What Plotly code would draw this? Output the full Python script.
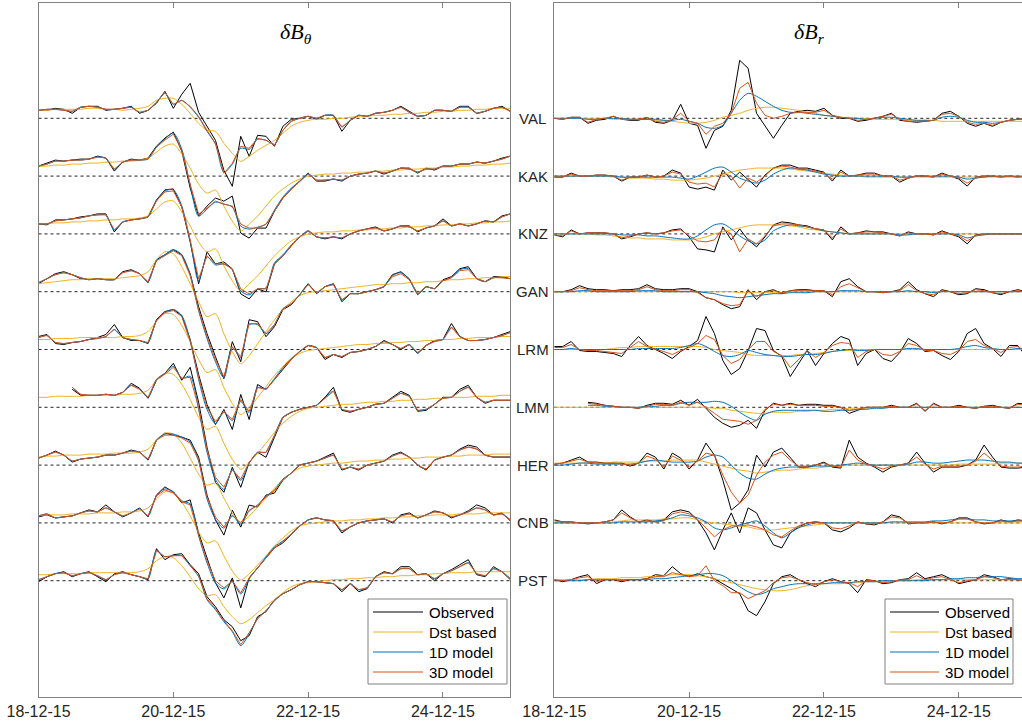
import datetime as dt
import plotly.graph_objects as go

# ---------------------------------------------------------------------------
# Geomagnetic variations during the December 2015 storm, 3-hourly samples.
# Each value is the deviation of a station trace from its own baseline
# (stacked display units); None = no data.
# ---------------------------------------------------------------------------
STATIONS = ["VAL", "KAK", "KNZ", "GAN", "LRM", "LMM", "HER", "CNB", "PST"]
START = dt.datetime(2015, 12, 18)
STEP_HOURS = 3
N_SAMPLES = 57
TICK_DATES = ["2015-12-18", "2015-12-20", "2015-12-22", "2015-12-24"]
TICK_TEXT = ["18-12-15", "20-12-15", "22-12-15", "24-12-15"]
SERIES_NAMES = ["Observed", "Dst based", "1D model", "3D model"]
SERIES_COLORS = ["#000000", "#EDB120", "#0072BD", "#D95319"]
PANEL_TITLES = ["<i>δB</i><sub><i>θ</i></sub>", "<i>δB</i><sub><i>r</i></sub>"]
N = None

# ----------------------------- delta B theta -------------------------------
val_th_obs = [8,8,10,9,5,11,12,12,8,9, 10,12,5,8,15,27,10,24,35,6, -8,-22,-52,-68,-18,-38,-17,-18,-28,-8, -1,0,2,-1,3,3,-13,-2,3,2, 5,6,8,12,7,2,3,8,8,7, 12,12,5,7,10,12,7]
val_th_dst = [8,8,9,9,9,9,10,10,9,9, 8,9,10,12,18,20,20,14,5,-5, -12,-13,-25,-35,-43,-38,-32,-27,-22,-15, -8,-4,-2,-1,-1,0,0,1,2,2, 3,3,4,4,5,5,6,6,7,7, 8,8,9,9,10,10,10]
val_th_1d = [8,9,9,8,7,11,12,11,9,9, 10,11,6,8,16,25,14,18,11,1, -13,-26,-54,-46,-30,-31,-21,-22,-26,-12, -3,0,2,0,3,3,-8,-2,3,2, 5,6,8,11,6,2,3,8,8,7, 11,11,5,7,10,11,7]
val_th_3d = [8,9,9,8,7,11,12,11,9,9, 10,11,6,8,16,26,14,18,12,2, -12,-25,-55,-45,-28,-30,-20,-22,-27,-12, -3,0,2,0,3,3,-9,-2,3,2, 5,6,8,11,6,2,3,8,8,7, 11,11,5,7,10,11,7]

kak_th_obs = [10,13,16,15,16,17,17,20,18,5, 14,17,16,18,30,38,44,25,-12,-40, -30,-22,-25,-20,-57,-62,-52,-52,-35,-22, -13,-5,3,-5,-5,-3,-5,0,2,3, 5,2,5,8,8,3,8,6,10,10, 12,12,14,13,15,18,20]
kak_th_dst = [10,10,11,11,12,12,13,13,14,14, 15,15,16,18,24,30,32,22,8,-8, -17,-14,-30,-45,-55,-48,-40,-30,-20,-13, -7,-3,0,1,2,2,3,3,4,4, 5,5,6,6,7,7,8,8,9,9, 10,10,11,11,12,12,13]
kak_th_1d = [10,12,15,15,16,16,17,19,18,7, 14,16,16,17,29,37,43,27,-9,-40, -33,-26,-28,-31,-50,-53,-51,-48,-34,-21, -12,-5,2,-4,-4,-3,-4,0,2,3, 5,3,5,8,7,4,7,7,10,10, 12,12,14,13,15,17,20]
kak_th_3d = [10,12,15,15,16,16,17,19,18,7, 14,16,16,17,29,36,42,26,-8,-38, -32,-25,-28,-30,-48,-52,-52,-48,-35,-22, -13,-5,2,-4,-4,-3,-4,0,2,3, 5,3,5,8,7,4,7,7,10,10, 12,12,14,13,15,17,20]

knz_th_obs = [10,9,14,14,15,17,18,20,20,2, 12,14,15,17,34,44,45,27,-8,-50, -18,-30,-28,-35,-60,-65,-55,-58,-30,-22, -12,-3,3,-3,-5,-3,-5,0,3,5, 7,3,5,8,8,2,6,8,15,8, 10,8,10,13,12,18,20]
knz_th_dst = [10,10,11,11,12,12,13,13,14,14, 15,15,16,18,25,32,33,22,8,-8, -18,-15,-32,-47,-57,-50,-42,-32,-22,-14, -7,-3,0,1,2,2,3,3,4,4, 5,5,6,6,7,7,8,8,9,9, 10,10,11,11,12,12,13]
knz_th_1d = [10,10,13,14,15,16,18,19,19,4, 12,14,15,17,33,43,44,28,-7,-47, -23,-31,-30,-36,-57,-61,-55,-54,-29,-21, -11,-3,3,-3,-4,-3,-4,0,3,5, 6,3,5,8,7,3,6,8,13,8, 10,8,10,13,12,17,20]
knz_th_3d = [10,10,13,14,15,16,18,19,19,4, 12,14,15,17,33,42,43,27,-6,-45, -22,-30,-30,-35,-55,-60,-55,-55,-30,-22, -12,-3,3,-3,-4,-3,-4,0,3,5, 6,3,5,8,7,3,6,8,13,8, 10,8,10,13,12,17,20]

gan_th_obs = [8,13,18,20,17,13,12,13,12,12, 20,22,18,9,32,37,42,37,18,-15, -42,-65,-87,-50,-70,-28,-30,-45,-35,-18, -13,-3,8,-2,5,8,-10,-2,-2,0, 2,5,17,20,13,-3,5,3,12,15, 23,25,13,10,15,15,13]
gan_th_dst = [8,9,10,11,12,12,13,13,13,13, 14,15,16,20,32,40,38,25,8,-10, -25,-22,-42,-60,-72,-64,-52,-40,-28,-18, -10,-4,-1,0,1,2,3,4,5,6, 7,7,8,8,9,9,10,10,11,12, 12,13,13,14,14,15,15]
gan_th_1d = [9,13,17,19,17,14,12,13,12,12, 19,21,18,10,31,37,42,37,17,-19, -47,-70,-86,-56,-66,-33,-33,-42,-33,-17, -12,-3,7,-1,5,7,-8,-2,-2,0, 2,5,16,19,12,-2,5,3,11,14, 22,23,13,10,14,14,13]
gan_th_3d = [9,13,17,19,17,14,12,13,12,12, 19,21,18,10,31,36,41,36,16,-18, -45,-68,-85,-55,-65,-32,-32,-42,-33,-17, -12,-3,7,-1,5,7,-8,-2,-2,0, 2,5,15,18,12,-2,5,3,11,14, 21,22,13,10,14,14,13]

lrm_th_obs = [13,15,6,5,7,8,10,12,15,25, 12,9,9,6,30,38,40,34,10,-25, -55,-75,-60,-80,-45,-70,-35,-40,-30,-20, -10,-2,4,2,-10,-5,-8,-3,-2,0, 3,9,5,0,5,-4,4,9,10,26, 13,9,9,10,12,15,18]
lrm_th_dst = [10,10,11,11,11,12,12,12,12,12, 13,13,14,18,28,36,35,24,8,-10, -23,-20,-38,-54,-65,-58,-48,-37,-26,-17, -9,-4,-1,0,1,2,3,4,5,5, 6,6,7,7,8,8,9,9,10,10, 11,11,12,12,12,13,13]
lrm_th_1d = [12,14,7,6,7,8,10,11,13,20, 12,10,9,7,29,37,40,34,9,-30, -60,-74,-63,-71,-52,-63,-38,-39,-29,-18, -9,-2,4,2,-8,-5,-7,-3,-2,0, 3,8,5,1,5,-3,4,8,10,22, 13,9,9,10,12,14,17]
lrm_th_3d = [12,14,7,6,7,8,10,11,13,20, 12,10,9,7,29,37,39,33,8,-28, -58,-72,-62,-70,-50,-62,-38,-40,-30,-19, -10,-2,4,2,-8,-5,-7,-3,-2,0, 3,8,5,1,5,-3,4,8,10,22, 13,9,9,10,12,14,17]

lmm_th_obs = [N,N,N,N,18,12,12,12,13,12, 15,24,19,9,27,34,44,27,40,5, -40,-75,-85,-60,-80,-55,-45,-50,-30,-10, -5,-2,0,2,10,20,-3,-5,-2,0, 3,4,10,16,12,-4,-3,3,10,10, 18,22,10,4,7,7,7]
lmm_th_dst = [10,10,11,11,11,11,12,12,12,12, 13,13,14,17,27,34,33,23,8,-10, -22,-19,-36,-52,-62,-55,-46,-36,-25,-16, -9,-4,-1,0,1,2,3,3,4,5, 5,6,6,7,7,8,8,9,9,10, 10,10,11,11,11,12,12]
lmm_th_1d = [N,N,N,N,20,13,12,12,13,12, 15,22,18,10,28,34,41,29,31,-2, -45,-72,-82,-63,-73,-56,-45,-45,-28,-10, -5,-2,0,2,9,16,-2,-4,-2,0, 3,4,9,14,11,-3,-2,3,9,10, 16,20,10,5,7,7,7]
lmm_th_3d = [N,N,N,N,20,13,12,12,13,12, 15,22,18,10,28,33,40,29,30,0, -42,-70,-80,-62,-72,-55,-45,-45,-28,-10, -5,-2,0,2,9,16,-2,-4,-2,0, 3,4,9,14,11,-3,-2,3,9,10, 16,20,10,5,7,7,7]

her_th_obs = [7,10,14,10,3,6,7,8,10,10, 12,15,13,5,25,32,30,28,25,8, -30,-55,-70,-45,-62,-40,-42,-30,-28,-15, -8,0,2,4,8,12,-5,-2,-5,0, 2,4,10,13,8,0,-5,5,8,10, 16,20,18,10,8,8,8]
her_th_dst = [8,9,9,10,10,10,11,11,11,12, 12,12,13,16,25,32,31,22,7,-9, -20,-18,-33,-48,-57,-51,-42,-33,-23,-15, -8,-3,-1,0,1,2,2,3,4,4, 5,5,6,6,7,7,8,8,8,9, 9,10,10,10,11,11,11]
her_th_1d = [7,10,13,10,4,6,7,8,10,10, 12,14,13,6,25,31,31,28,23,4, -34,-54,-63,-51,-59,-46,-40,-31,-25,-14, -8,0,2,4,7,10,-4,-2,-4,0, 2,4,9,12,8,0,-4,5,8,10, 15,18,16,10,8,8,8]
her_th_3d = [7,10,13,10,4,6,7,8,10,10, 12,14,13,6,25,30,30,27,22,5, -32,-52,-62,-50,-58,-45,-40,-32,-26,-15, -8,0,2,4,7,10,-4,-2,-4,0, 2,4,9,12,8,0,-4,5,8,10, 15,18,16,10,8,8,8]

cnb_th_obs = [6,8,5,6,7,10,13,11,18,11, 6,10,15,6,28,36,31,20,23,-10, -35,-60,-75,-55,-85,-55,-45,-35,-25,-20, -12,-3,3,5,3,2,-10,-4,0,2, 3,4,0,8,10,5,8,12,10,5, 8,12,18,15,8,10,2]
cnb_th_dst = [7,8,8,8,9,9,9,10,10,10, 11,11,12,15,24,31,30,21,7,-9, -20,-18,-33,-48,-57,-51,-42,-33,-23,-15, -8,-3,-1,0,1,2,2,3,3,4, 4,5,5,6,6,7,7,8,8,8, 9,9,9,10,10,10,10]
cnb_th_1d = [7,9,5,6,7,10,12,11,15,11, 7,10,14,7,27,34,31,22,19,-13, -40,-60,-66,-59,-71,-56,-45,-34,-24,-18, -11,-3,3,5,3,2,-8,-4,0,2, 3,4,1,7,9,5,8,11,10,6, 8,11,15,13,8,9,3]
cnb_th_3d = [7,9,5,6,7,10,12,11,15,11, 7,10,14,7,27,33,30,21,18,-12, -38,-58,-65,-58,-70,-55,-45,-35,-25,-19, -11,-3,3,5,3,2,-8,-4,0,2, 3,4,1,7,9,5,8,11,10,6, 8,11,15,13,8,9,3]

pst_th_obs = [-1,4,7,9,4,7,9,4,-1,7, 9,6,4,1,32,21,26,27,16,7, -16,-26,-39,-46,-60,-55,-36,-31,-19,-13, -9,-4,-1,-1,-2,-3,-11,-3,-11,-8, 4,9,7,14,14,6,7,0,7,11, 16,21,6,4,14,9,1]
pst_th_dst = [6,6,7,7,7,7,8,8,8,8, 8,8,9,12,20,24,23,15,4,-8, -15,-14,-26,-36,-43,-39,-32,-25,-19,-12, -6,-3,-2,-1,0,1,1,2,2,3, 3,4,4,5,5,6,6,7,7,8, 8,8,9,9,9,9,9]
pst_th_1d = [1,4,7,8,5,7,8,5,1,6, 8,6,4,2,30,24,25,25,15,4, -19,-29,-41,-51,-65,-53,-38,-30,-20,-13, -9,-4,-1,-1,-2,-3,-9,-3,-9,-7, 4,8,7,12,12,6,7,2,7,10, 14,18,7,5,12,9,2]
pst_th_3d = [1,4,7,8,5,7,8,5,1,6, 8,6,4,2,30,24,25,25,15,5, -18,-28,-40,-50,-64,-52,-38,-30,-20,-13, -9,-4,-1,-1,-2,-3,-9,-3,-9,-7, 4,8,7,12,12,6,7,2,7,10, 14,18,7,5,12,9,2]

# ------------------------------- delta B r ---------------------------------
val_r_obs = [0,-1,1,1,-5,-2,-1,2,-1,-2, -2,1,-4,-5,-2,14,-5,-7,-30,-12, -8,8,58,50,5,-8,-20,-7,5,7, 8,7,10,3,0,0,-3,-2,0,2, 5,-2,-3,-4,-3,-2,5,7,2,-5, -8,-5,-8,-4,-2,-1,0]
val_r_dst = [0,0,0,0,0,0,0,-1,-1,-1, -1,-1,-2,-2,-3,-4,-5,-5,-4,-2, 1,3,5,8,10,11,11,10,9,8, 6,5,3,2,1,1,0,0,-1,-1, -1,-1,-2,-2,-2,-2,-3,-3,-3,-3, -3,-3,-3,-3,-3,-3,-3]
val_r_1d = [0,0,0,0,-1,-1,0,0,0,-1, -1,-1,-1,-2,-2,-1,-3,-5,-9,-10, -7,5,18,25,22,17,12,8,6,6, 5,4,3,2,1,0,0,-1,0,1, 1,0,-1,-2,-2,-2,1,2,1,-2, -4,-4,-5,-4,-2,-1,0]
val_r_3d = [0,-1,1,1,-4,-1,0,2,-1,-1, -1,1,-3,-4,-1,5,-3,-5,-16,-8, -5,5,30,36,15,3,0,2,5,6, 6,6,8,3,1,0,-2,-1,0,2, 4,-1,-3,-3,-3,-2,4,5,2,-4, -6,-5,-7,-4,-2,-1,0]

kak_r_obs = [-1,-1,3,0,0,1,1,0,-5,-1, -1,1,-1,0,6,3,-11,-13,-11,-14, 6,-4,4,-4,-11,1,8,11,11,8, 8,6,4,-5,6,0,1,3,3,0, 0,-6,-2,0,0,-1,3,0,-3,-10, -1,0,0,-1,0,-1,0]
kak_r_dst = [0,0,0,0,0,0,0,-1,-1,-2, -2,-2,-3,-3,-4,-4,-4,-3,-2,0, 2,4,6,7,8,8,8,8,7,6, 5,4,3,2,1,0,0,-1,-1,-1, -1,-1,-1,-1,-1,-1,-1,-1,-1,-1, -1,-1,-1,-1,-1,-1,-1]
kak_r_1d = [0,0,0,0,0,0,0,0,-1,-1, -1,-1,-1,-1,-1,-2,-3,0,4,8, 9,4,-2,-5,-7,-4,2,6,8,7, 6,4,2,1,0,0,0,0,0,0, 0,-1,-1,0,0,0,0,0,-1,-3, -2,-1,0,0,0,0,0]
kak_r_3d = [-1,-1,2,0,0,1,1,0,-4,-1, -1,1,-1,0,4,2,-6,-8,-7,-11, 3,0,-12,-2,-6,0,8,10,9,7, 7,5,3,-3,4,0,1,2,2,0, 0,-4,-2,0,0,-1,2,0,-2,-7, -2,0,0,-1,0,-1,0]

knz_r_obs = [-1,-3,4,0,1,1,1,0,-5,-3, 0,1,0,1,4,5,-3,-15,-16,-18, 7,-6,5,-6,-13,-3,9,12,11,9, 8,5,4,-6,7,0,1,3,2,2, 0,-2,2,0,0,-1,3,0,-3,-10, -1,0,0,0,0,0,0]
knz_r_dst = [0,0,0,0,0,-1,-1,-2,-3,-4, -4,-5,-5,-5,-6,-6,-6,-5,-3,0, 2,4,6,8,9,9,9,9,8,7, 5,4,3,2,1,0,0,0,0,0, 0,0,0,0,0,0,0,0,0,0, 0,0,0,0,0,0,0]
knz_r_1d = [0,0,0,0,0,0,0,0,-1,-1, -1,-2,-2,-3,-4,-5,-5,-2,4,9, 10,5,-2,-7,-10,-6,3,7,9,8, 7,5,3,2,1,0,0,0,0,0, 0,-1,-1,0,0,0,0,0,-1,-4, -2,-1,0,0,0,0,0]
knz_r_3d = [-1,-2,3,0,1,1,1,0,-4,-2, 0,1,0,1,3,4,-2,-7,-8,-6, 5,0,-18,-5,-10,-2,8,10,10,9, 7,5,4,-4,5,0,1,2,2,1, 0,-2,1,0,0,-1,2,0,-2,-7, -2,0,0,0,0,0,0]

gan_r_obs = [0,0,2,6,3,2,2,1,2,2, 3,7,3,2,2,3,3,0,-6,-8, -13,-17,-15,2,-8,0,2,-2,1,2, 2,1,1,-5,10,13,5,0,0,-1, 0,2,10,2,-2,-5,2,0,-3,-2, 3,2,-1,-3,0,2,0]
gan_r_dst = [0,0,0,0,0,0,0,0,0,0, 0,0,0,0,0,0,0,0,0,0, 0,0,-1,-1,-1,-1,-1,-1,0,0, 0,0,0,0,0,0,0,0,0,0, 0,0,0,0,0,0,0,0,0,0, 0,0,0,0,0,0,0]
gan_r_1d = [0,0,0,1,1,0,0,0,0,0, 1,1,1,0,0,0,0,0,-1,-2, -4,-5,-6,-5,-4,-3,-2,-2,-1,-1, -1,0,0,0,1,1,1,0,0,0, 0,0,1,0,0,-1,0,0,0,0, 0,0,0,0,0,0,0]
gan_r_3d = [0,0,1,4,2,1,1,1,1,1, 2,5,2,1,1,2,2,-1,-6,-8, -12,-14,-13,1,-5,0,1,-1,1,1, 1,1,1,-3,5,8,4,0,0,-1, 0,1,7,1,-2,-3,1,0,-2,-1, 2,1,-1,-2,0,1,0]

lrm_r_obs = [3,3,8,-1,-2,-2,-3,-4,-7,4, 13,4,0,-4,-9,-2,3,9,33,16, -11,-25,-19,-1,21,19,-1,-7,-27,-14, -1,-16,-4,6,13,10,-16,-4,0,-9, -12,-3,11,6,-2,-1,-6,-10,-2,16, 21,6,1,-7,4,4,-7]
lrm_r_dst = [0,0,0,0,0,0,0,1,2,2, 3,3,3,3,3,3,3,3,2,0, -1,-2,-3,-5,-6,-6,-6,-6,-6,-5, -5,-4,-3,-2,-1,-1,0,0,0,0, 0,0,0,0,0,0,0,0,0,0, 0,0,0,0,0,0,0]
lrm_r_1d = [0,0,1,0,0,0,0,0,0,0, 1,1,1,1,1,2,4,6,3,-2, -6,-7,-5,-1,-3,-5,-6,-7,-7,-6, -5,-5,-4,-2,-1,0,-1,-1,0,0, 0,0,1,1,0,0,0,0,1,3, 4,2,1,0,0,1,0]
lrm_r_3d = [2,2,5,0,-1,-1,-2,-3,-4,2, 8,3,0,-2,-5,-1,2,6,14,10, -6,-14,-10,0,8,8,-2,-6,-18,-10, -1,-8,-3,4,7,6,-8,-2,0,-5, -6,-2,6,4,-1,-1,-4,-5,-1,8, 10,4,1,-3,2,3,-2]

lmm_r_obs = [N,N,N,N,5,4,2,1,0,0, -1,2,4,4,3,7,2,8,-1,-10, -16,-20,-18,-13,-21,-3,4,2,4,2, 3,3,2,2,0,-6,-3,0,0,0, 2,0,0,4,-4,4,0,0,2,0, -1,1,2,0,-1,4,3]
lmm_r_dst = [0,0,0,0,0,0,0,0,0,0, 0,0,0,0,0,0,0,0,0,-1, -1,-3,-4,-5,-6,-6,-5,-5,-5,-4, -4,-3,-3,-2,-2,-1,-1,-1,0,0, 0,0,0,0,0,0,0,0,0,0, 0,0,0,0,0,0,0]
lmm_r_1d = [N,N,N,N,2,2,1,1,0,0, 0,1,1,2,2,4,5,5,5,6, 5,1,-5,-10,-13,-7,-4,-3,-3,-3, -3,-3,-4,-4,-3,-3,-2,-2,-1,-1, 0,0,0,0,0,0,0,0,0,0, 0,0,0,0,0,0,0]
lmm_r_3d = [N,N,N,N,4,3,2,1,0,0, -1,1,3,3,2,5,2,5,0,-6, -12,-13,-14,-17,-13,-2,3,2,3,2, 2,2,1,1,0,-3,-2,0,0,0, 1,0,0,3,-3,3,0,0,1,0, -1,1,1,0,-1,3,2]

her_r_obs = [1,2,5,8,3,3,2,2,2,-1, 2,12,8,-4,12,7,-4,5,22,10, -15,-45,-38,-25,10,-2,13,17,8,-2, -2,0,3,-2,-3,25,8,2,-2,-7, -2,0,2,13,2,-7,-2,-2,-2,0, 5,20,8,-2,-3,-3,-2]
her_r_dst = [2,2,2,2,2,2,2,3,3,3, 3,4,4,4,5,5,5,5,3,1, -1,-3,-5,-6,-8,-7,-6,-5,-5,-4, -3,-3,-2,-1,-1,0,0,0,0,0, 0,0,0,0,0,0,0,0,1,1, 1,1,1,2,2,2,2]
her_r_1d = [0,0,1,2,2,1,1,1,1,1, 2,4,5,4,3,3,3,4,8,10, 8,0,-8,-13,-14,-9,-5,-3,-2,-2, -2,-1,-1,-1,0,1,2,1,0,0, 0,0,1,3,3,2,2,3,4,5, 5,5,4,3,3,2,2]
her_r_3d = [1,2,4,6,3,2,2,2,1,0, 2,9,6,-2,9,5,-2,4,12,10, -10,-27,-38,-30,-10,3,10,13,5,-1, -1,0,2,-1,-2,15,5,1,-1,-4, -1,0,2,8,1,-4,-1,-1,-1,0, 4,12,5,-1,-2,-2,-1]

cnb_r_obs = [3,1,1,0,-1,0,1,3,13,6, 1,3,1,3,11,13,11,3,-10,-27, -7,10,-10,15,10,-7,-22,-25,-10,-4, 0,1,0,-7,-9,-5,1,-1,-2,1, 8,6,-1,0,0,1,-1,1,5,5, 1,-1,0,3,1,3,2]
cnb_r_dst = [0,0,0,0,0,0,0,1,2,3, 3,3,3,4,4,5,5,3,1,0, -1,-2,-3,-4,-6,-7,-7,-6,-5,-4, -3,-2,-1,0,0,0,0,0,0,0, 0,0,0,0,0,0,0,0,0,0, 0,0,0,0,0,0,0]
cnb_r_1d = [0,0,0,0,0,0,0,0,1,1, 1,1,2,3,5,8,7,5,1,-5, -7,-5,-2,0,2,-3,-10,-15,-10,-5, -2,0,0,0,0,0,0,0,0,0, 1,1,1,1,1,2,2,3,4,4, 3,3,2,2,2,2,2]
cnb_r_3d = [2,1,1,0,0,0,1,3,10,5, 1,2,1,2,9,11,9,3,-5,-14, -7,-3,-3,-2,-4,-7,-12,-14,-8,-3, 0,1,0,-5,-6,-3,1,-1,-1,1, 6,5,0,0,0,1,0,1,4,4, 1,0,0,2,1,2,2]

pst_r_obs = [1,-1,1,4,6,-3,1,1,-1,1, 1,2,6,5,14,7,4,7,4,2, -3,-8,-13,-30,-35,-21,-3,4,6,1, -3,-6,-1,2,-1,-3,-12,1,0,-3, -2,1,2,8,2,4,6,2,-3,-1, 1,6,4,1,2,1,0]
pst_r_dst = [1,1,1,1,1,2,2,2,3,3, 3,4,4,5,6,6,6,5,4,2, 0,-2,-4,-6,-8,-9,-10,-10,-9,-7, -5,-4,-3,-3,-3,-2,-2,-1,-1,-1, 0,0,0,1,1,1,1,1,1,1, 1,1,1,1,1,1,1]
pst_r_1d = [0,0,0,0,1,1,1,1,1,1, 1,1,2,2,3,4,5,6,7,7, 5,0,-6,-11,-14,-12,-8,-6,-4,-3, -3,-3,-3,-2,-2,-2,-1,-1,-1,0, 0,0,0,0,0,1,1,2,2,3, 3,4,4,4,3,2,2]
pst_r_3d = [1,0,1,3,4,-1,1,1,0,1, 1,2,4,4,8,6,4,5,15,0, -5,-12,-12,-18,-14,-10,-2,3,4,1, -2,-4,-1,1,-1,-2,-6,0,0,-2, -1,1,1,5,1,3,4,1,-2,0, 1,4,3,1,1,1,0]

# station -> (observed, Dst based, 1D model, 3D model)
THETA = {
    "VAL": (val_th_obs, val_th_dst, val_th_1d, val_th_3d),
    "KAK": (kak_th_obs, kak_th_dst, kak_th_1d, kak_th_3d),
    "KNZ": (knz_th_obs, knz_th_dst, knz_th_1d, knz_th_3d),
    "GAN": (gan_th_obs, gan_th_dst, gan_th_1d, gan_th_3d),
    "LRM": (lrm_th_obs, lrm_th_dst, lrm_th_1d, lrm_th_3d),
    "LMM": (lmm_th_obs, lmm_th_dst, lmm_th_1d, lmm_th_3d),
    "HER": (her_th_obs, her_th_dst, her_th_1d, her_th_3d),
    "CNB": (cnb_th_obs, cnb_th_dst, cnb_th_1d, cnb_th_3d),
    "PST": (pst_th_obs, pst_th_dst, pst_th_1d, pst_th_3d),
}
RADIAL = {
    "VAL": (val_r_obs, val_r_dst, val_r_1d, val_r_3d),
    "KAK": (kak_r_obs, kak_r_dst, kak_r_1d, kak_r_3d),
    "KNZ": (knz_r_obs, knz_r_dst, knz_r_1d, knz_r_3d),
    "GAN": (gan_r_obs, gan_r_dst, gan_r_1d, gan_r_3d),
    "LRM": (lrm_r_obs, lrm_r_dst, lrm_r_1d, lrm_r_3d),
    "LMM": (lmm_r_obs, lmm_r_dst, lmm_r_1d, lmm_r_3d),
    "HER": (her_r_obs, her_r_dst, her_r_1d, her_r_3d),
    "CNB": (cnb_r_obs, cnb_r_dst, cnb_r_1d, cnb_r_3d),
    "PST": (pst_r_obs, pst_r_dst, pst_r_1d, pst_r_3d),
}

# ------------------------------- layout ------------------------------------
W, H = 1022, 727
SPACING = 57.8                  # vertical distance between station baselines
Y_RANGE = [-578.7, 115.3]       # display units, VAL baseline at 0
FRAME = "#808080"
TEXT = "#262626"
SANS = "Liberation Sans, Arial, sans-serif"
# smooth rendering for the slowly varying model curves
LINE_SHAPE = {"Observed": "linear", "Dst based": "spline",
              "1D model": "spline", "3D model": "linear"}


def px_x(p):
    return p / W


def px_y(p):
    return 1 - p / H


times = [START + dt.timedelta(hours=STEP_HOURS * i) for i in range(N_SAMPLES)]
offsets = {s: -SPACING * k for k, s in enumerate(STATIONS)}

fig = go.Figure()
panels = [(THETA, "x", "y"), (RADIAL, "x2", "y2")]
for data, xa, ya in panels:
    for st in STATIONS:
        for values, name, color in zip(data[st], SERIES_NAMES, SERIES_COLORS):
            ys = [None if v is None else v + offsets[st] for v in values]
            fig.add_trace(go.Scatter(
                x=times, y=ys, mode="lines", name=name, showlegend=False,
                line=dict(color=color, width=1, shape=LINE_SHAPE[name],
                          smoothing=0.8),
                xaxis=xa, yaxis=ya, connectgaps=False, hoverinfo="skip"))

x_common = dict(
    type="date", tickvals=TICK_DATES, ticktext=TICK_TEXT, ticks="inside",
    ticklen=5, tickcolor=FRAME, showline=True, linecolor=FRAME, linewidth=1,
    mirror="ticks", showgrid=False, zeroline=False, automargin=False,
    ticklabelstandoff=0,
    tickfont=dict(family=SANS, size=16, color=TEXT))
y_common = dict(range=Y_RANGE, showline=True, linecolor=FRAME, linewidth=1,
                showticklabels=False, ticks="", showgrid=False, zeroline=False,
                automargin=False, domain=[px_y(697), px_y(3)])

fig.update_layout(
    width=W, height=H, margin=dict(l=0, r=0, t=0, b=0, pad=0, autoexpand=False),
    paper_bgcolor="white", plot_bgcolor="white", showlegend=False,
    xaxis=dict(x_common, domain=[px_x(38.5), px_x(510.4)],
               range=[START, START + dt.timedelta(hours=168)], anchor="y"),
    xaxis2=dict(x_common, domain=[px_x(554.3), 1.0],
                range=[START, START + dt.timedelta(hours=166.5)], anchor="y2"),
    yaxis=dict(y_common, mirror=True, anchor="x"),
    yaxis2=dict(y_common, mirror=False, anchor="x2"),
)

shapes, annotations = [], []

# dotted zero line for each station in both panels
for xa, ya in (("x", "y"), ("x2", "y2")):
    for st in STATIONS:
        shapes.append(dict(type="line", xref=f"{xa} domain", yref=ya,
                           x0=0, x1=1, y0=offsets[st], y1=offsets[st],
                           line=dict(color="#222222", width=1, dash="dot"),
                           layer="below"))

# station names between the two panels
for st in STATIONS:
    annotations.append(dict(text=st, xref="paper", yref="y", x=px_x(532.5),
                            y=offsets[st], showarrow=False, xanchor="center",
                            yanchor="middle",
                            font=dict(family=SANS, size=15, color=TEXT)))

# panel titles
for title, cx in zip(PANEL_TITLES, (296, 809)):
    annotations.append(dict(text=title, xref="paper", yref="paper",
                            x=px_x(cx), y=px_y(33), showarrow=False,
                            xanchor="center", yanchor="middle",
                            font=dict(family="Liberation Serif, serif",
                                      size=22, color="#000000")))

# legend boxes
for (bx0, bx1, lx0, lx1, tx) in ((368, 507, 373, 423, 427),
                                 (885, 1013, 890, 939, 943)):
    shapes.append(dict(type="rect", xref="paper", yref="paper",
                       x0=px_x(bx0), x1=px_x(bx1), y0=px_y(684), y1=px_y(599),
                       fillcolor="white", line=dict(color=FRAME, width=1),
                       layer="above"))
    for k, (name, color) in enumerate(zip(SERIES_NAMES, SERIES_COLORS)):
        yy = 612 + 20 * k
        shapes.append(dict(type="line", xref="paper", yref="paper",
                           x0=px_x(lx0), x1=px_x(lx1), y0=px_y(yy), y1=px_y(yy),
                           line=dict(color=color, width=1), layer="above"))
        annotations.append(dict(text=name, xref="paper", yref="paper",
                                x=px_x(tx), y=px_y(yy), showarrow=False,
                                xanchor="left", yanchor="middle",
                                font=dict(family=SANS, size=15, color="#000000")))

fig.update_layout(shapes=shapes, annotations=annotations)
fig.write_html("out.html")
